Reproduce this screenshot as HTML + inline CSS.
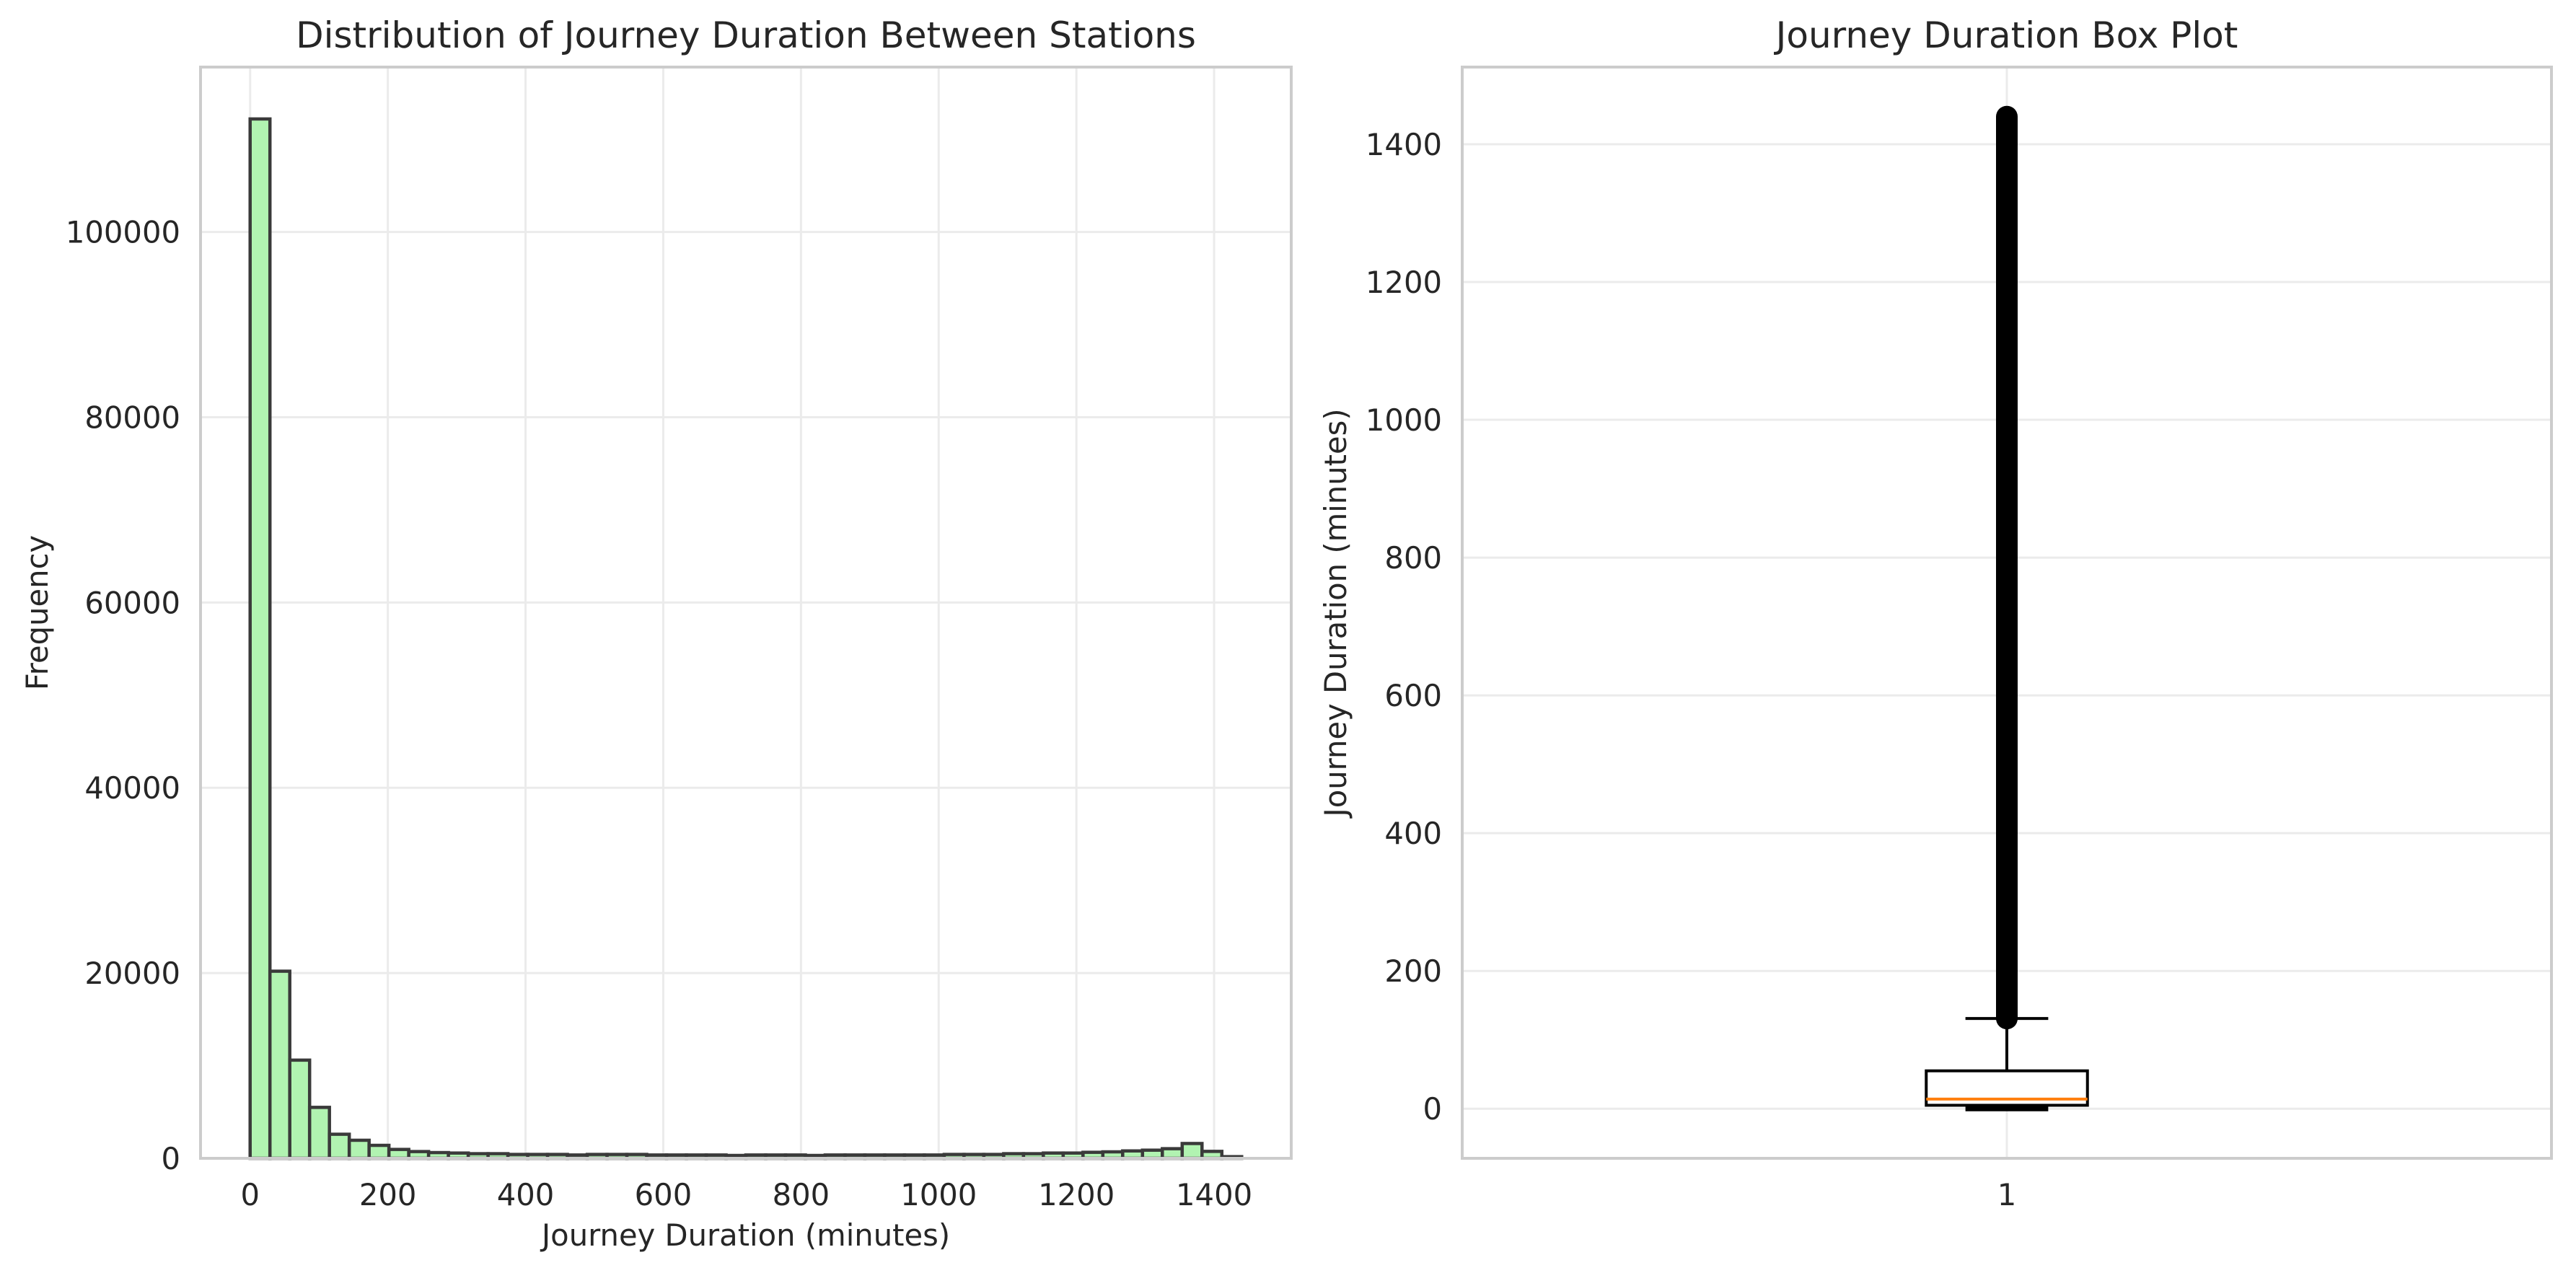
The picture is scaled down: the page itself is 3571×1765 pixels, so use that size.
<!DOCTYPE html>
<html><head><meta charset="utf-8">
<style>
html,body{margin:0;padding:0;background:#fff;}
svg{display:block;font-family:"DejaVu Sans","Liberation Sans",sans-serif;}
</style></head>
<body>
<svg id="fig" width="3571" height="1765" viewBox="0 0 3571 1765" xmlns="http://www.w3.org/2000/svg">
<rect width="3571" height="1765" fill="#fff"/>
<g id="left"></g>
<g id="right"></g>
</svg>
<script>
// Histogram data
const binStart = 0;
const binWidth = 28.8;
const binCounts = [112200,20200,10600,5500,2600,1950,1400,960,730,620,570,500,500,420,420,420,360,420,420,420,360,360,360,360,310,360,360,360,310,360,360,360,360,360,360,420,420,420,500,500,570,570,650,700,800,880,1040,1600,750,180];
const histXTicks = [0,200,400,600,800,1000,1200,1400];
const histYTicks = [0,20000,40000,60000,80000,100000];
// Box plot data
const boxStats = {q1:5, median:14, q3:55, whiskerLow:0, whiskerHigh:131};
const outlierRange = [131, 1440];
const boxYTicks = [0,200,400,600,800,1000,1200,1400];
const boxXTicks = [1];

const NS='http://www.w3.org/2000/svg';
function mk(parent, tag, attrs, text){
  const e=document.createElementNS(NS,tag);
  for(const k in attrs) e.setAttribute(k,attrs[k]);
  if(text!==undefined) e.textContent=text;
  parent.appendChild(e); return e;
}
const GRID='#ebebeb', SPINE='#cccccc', TXT='#262626';

// ---------- Left histogram ----------
const L=document.getElementById('left');
const lx0=278,lx1=1790,ly0=93,ly1=1606;
const xMin=-72,xMax=1512,yMax=117800;
const hx=v=>lx0+(v-xMin)/(xMax-xMin)*(lx1-lx0);
const hy=v=>ly1-v/yMax*(ly1-ly0);
histXTicks.forEach(t=>{
  const g=mk(L,'line',{x1:hx(t),x2:hx(t),y1:ly0,y2:ly1,stroke:GRID,'stroke-width':3});
  
  
  const lb=mk(L,'text',{x:hx(t),y:1671,'font-size':41.7,fill:TXT,'text-anchor':'middle'},String(t));
  
  
});
histYTicks.forEach(t=>{
  const g=mk(L,'line',{x1:lx0,x2:lx1,y1:hy(t),y2:hy(t),stroke:GRID,'stroke-width':3});
  
  
  const lb=mk(L,'text',{x:250,y:hy(t)+15,'font-size':41.7,fill:TXT,'text-anchor':'end'},String(t));
  
  
});
binCounts.forEach((c,i)=>{
  const xa=hx(binStart+i*binWidth), xb=hx(binStart+(i+1)*binWidth);
  const r=mk(L,'rect',{x:xa,y:hy(c),width:xb-xa,height:ly1-hy(c),fill:'#b1f3b1',stroke:'#3a3a3a','stroke-width':4.5});
  
  
});
const ls=mk(L,'rect',{x:lx0,y:ly0,width:lx1-lx0,height:ly1-ly0,fill:'none',stroke:SPINE,'stroke-width':4});


const lt=mk(L,'text',{x:(lx0+lx1)/2,y:66,'font-size':50,fill:TXT,'text-anchor':'middle'},'Distribution of Journey Duration Between Stations');


const lxl=mk(L,'text',{x:(lx0+lx1)/2,y:1727,'font-size':41.7,fill:TXT,'text-anchor':'middle'},'Journey Duration (minutes)');


const lyl=mk(L,'text',{x:0,y:0,'font-size':41.7,fill:TXT,'text-anchor':'middle',transform:`translate(66,${(ly0+ly1)/2}) rotate(-90)`},'Frequency');



// ---------- Right box plot ----------
const R=document.getElementById('right');
const rx0=2027,rx1=3537,ry0=93,ry1=1606;
const bMin=-72,bMax=1512;
const bx=v=>rx0+(v-0.5)/1.0*(rx1-rx0);
const by=v=>ry1-(v-bMin)/(bMax-bMin)*(ry1-ry0);
boxXTicks.forEach(t=>{
  const g=mk(R,'line',{x1:bx(t),x2:bx(t),y1:ry0,y2:ry1,stroke:GRID,'stroke-width':3});
  
  
  const lb=mk(R,'text',{x:bx(t),y:1671,'font-size':41.7,fill:TXT,'text-anchor':'middle'},String(t));
  
  
});
boxYTicks.forEach(t=>{
  const g=mk(R,'line',{x1:rx0,x2:rx1,y1:by(t),y2:by(t),stroke:GRID,'stroke-width':3});
  
  
  const lb=mk(R,'text',{x:1999,y:by(t)+15,'font-size':41.7,fill:TXT,'text-anchor':'end'},String(t));
  
  
});
const cx=bx(1), hw=bx(1.074)-bx(1), cw=bx(1.038)-bx(1);
const w1=mk(R,'line',{x1:cx,x2:cx,y1:by(boxStats.q3),y2:by(boxStats.whiskerHigh),stroke:'#000','stroke-width':4});


const w2=mk(R,'line',{x1:cx,x2:cx,y1:by(boxStats.q1),y2:by(boxStats.whiskerLow),stroke:'#000','stroke-width':4});


[boxStats.whiskerHigh,boxStats.whiskerLow].forEach((v,i)=>{
  const c=mk(R,'line',{x1:cx-cw,x2:cx+cw,y1:by(v),y2:by(v),stroke:'#000','stroke-width':i?7:4});
  
  
});
const box=mk(R,'rect',{x:cx-hw,y:by(boxStats.q3),width:2*hw,height:by(boxStats.q1)-by(boxStats.q3),fill:'#fff',stroke:'#000','stroke-width':4});


const med=mk(R,'line',{x1:cx-hw,x2:cx+hw,y1:by(boxStats.median),y2:by(boxStats.median),stroke:'#ff7f0e','stroke-width':4});


const out=mk(R,'line',{x1:cx,x2:cx,y1:by(outlierRange[0]),y2:by(outlierRange[1]),stroke:'#000','stroke-width':30,'stroke-linecap':'round'});


const rs=mk(R,'rect',{x:rx0,y:ry0,width:rx1-rx0,height:ry1-ry0,fill:'none',stroke:SPINE,'stroke-width':4});


const rt=mk(R,'text',{x:(rx0+rx1)/2,y:66,'font-size':50,fill:TXT,'text-anchor':'middle'},'Journey Duration Box Plot');


const ryl=mk(R,'text',{x:0,y:0,'font-size':41.7,fill:TXT,'text-anchor':'middle',transform:`translate(1866,${(ry0+ry1)/2}) rotate(-90)`},'Journey Duration (minutes)');


</script>
</body></html>
